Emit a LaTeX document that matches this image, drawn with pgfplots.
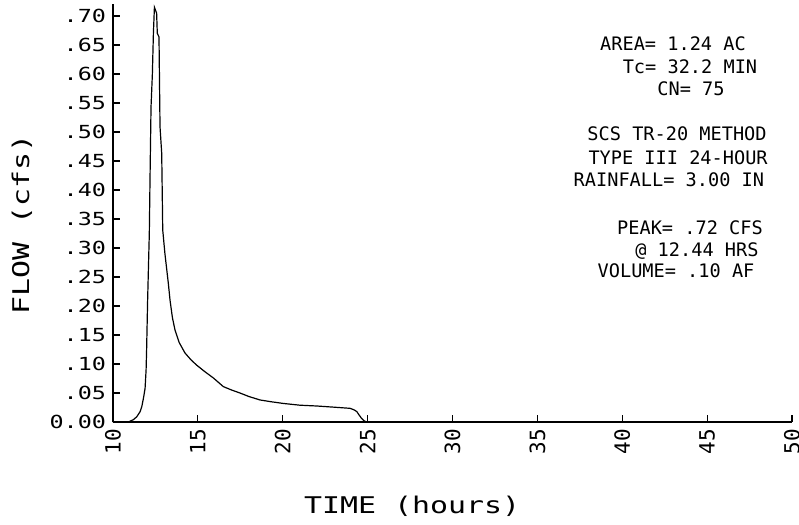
\documentclass[border=0pt]{standalone}
\usepackage{fontspec}
\newfontfamily\plotfont{DejaVu Sans Mono}
\newfontfamily\wideplot[FakeStretch=1.3]{DejaVu Sans Mono}
\usepackage{pgfplots}
\pgfplotsset{compat=1.18}

\begin{document}
\begin{tikzpicture}
\begin{axis}[
  scale only axis, width=339.5pt, height=208.8pt,
  xmin=10, xmax=50, ymin=0, ymax=0.72,
  axis lines=left, axis line style={line width=0.6pt, -},
  tick style={line width=0.6pt, black}, tick align=inside, major tick length=3.5pt,
  xtick={10,15,20,25,30,35,40,45,50},
  xticklabels={10,15,20,25,30,35,40,45,50},
  ytick={0,0.05,0.10,0.15,0.20,0.25,0.30,0.35,0.40,0.45,0.50,0.55,0.60,0.65,0.70},
  yticklabels={0.00,.05,.10,.15,.20,.25,.30,.35,.40,.45,.50,.55,.60,.65,.70},
  xticklabel style={rotate=90, anchor=east, font=\plotfont\fontsize{10.5}{12}\selectfont},
  yticklabel style={font=\wideplot\fontsize{9}{11}\selectfont, xshift=0pt},
  xlabel={TIME (hours)}, ylabel={FLOW (cfs)},
  xlabel style={at={(axis description cs:0.4404,-0.201)}, anchor=center,
    font=\wideplot\fontsize{11.5}{13}\selectfont},
  ylabel style={at={(axis description cs:-0.134,0.473)}, anchor=center,
    font=\wideplot\fontsize{11.5}{13}\selectfont},
  clip=false,
]
\addplot[black, line width=0.6pt] coordinates {
 (10,0)(10.9,0)(11.2,0.004)(11.4,0.009)(11.6,0.018)(11.7,0.027)(11.8,0.042)
 (11.89,0.058)(11.95,0.09)(11.98,0.124)(12.04,0.21)(12.10,0.28)(12.14,0.326)
 (12.18,0.417)(12.24,0.543)(12.32,0.60)(12.38,0.67)(12.44,0.715)(12.57,0.705)
 (12.61,0.67)(12.71,0.664)(12.77,0.509)(12.87,0.463)(12.93,0.331)(13.06,0.29)
 (13.26,0.239)(13.36,0.21)(13.5,0.18)(13.65,0.159)(13.9,0.137)(14.24,0.119)
 (14.6,0.107)(14.93,0.098)(15.4,0.087)(15.91,0.076)(16.5,0.061)(17.0,0.055)
 (17.48,0.050)(18.0,0.044)(18.66,0.038)(19.3,0.035)(20.03,0.032)(21.0,0.029)
 (22.0,0.0276)(23.0,0.0256)(23.96,0.0236)(24.2,0.021)(24.36,0.018)(24.5,0.012)
 (24.65,0.006)(24.8,0.002)(24.94,0)(50,0)
};
\begin{scope}[every node/.style={anchor=base, inner sep=0pt, font=\plotfont\fontsize{9.3}{11}\selectfont}]
\node at (axis cs:42.99,0.6397) {AREA= 1.24 AC};
\node at (axis cs:43.99,0.6017) {Tc= 32.2 MIN};
\node at (axis cs:44.05,0.5621) {CN= 75};
\node at (axis cs:43.23,0.4845) {SCS TR-20 METHOD};
\node at (axis cs:43.29,0.4448) {TYPE III 24-HOUR};
\node at (axis cs:42.75,0.4069) {RAINFALL= 3.00 IN};
\node at (axis cs:43.99,0.3241) {PEAK= .72 CFS};
\node at (axis cs:44.40,0.2862) {@ 12.44 HRS};
\node at (axis cs:43.17,0.2483) {VOLUME= .10 AF};
\end{scope}
\end{axis}
\pgfresetboundingbox
\path[use as bounding box] ([shift={(-56.5pt,-51.5pt)}]current axis.south west)
  rectangle ([shift={(343pt,211pt)}]current axis.south west);
\end{tikzpicture}
\end{document}
